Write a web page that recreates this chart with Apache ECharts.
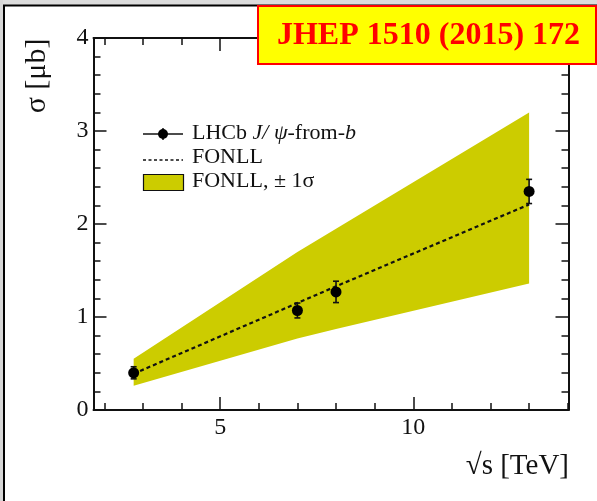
<!DOCTYPE html>
<html>
<head>
<meta charset="utf-8">
<script src="https://cdn.jsdelivr.net/npm/echarts@6/dist/echarts.min.js"></script>
<style>
  html, body { margin: 0; padding: 0; background: #ffffff; }
  #chart { width: 597px; height: 501px; }
</style>
</head>
<body>
<div id="chart"></div>
<script>
// Centre-of-mass energies (TeV) and J/psi-from-b cross-sections (microbarn)
const energies = [2.76, 7, 8, 13];
const lhcbSigma = [0.40, 1.07, 1.27, 2.35];
const lhcbErr = [0.065, 0.08, 0.115, 0.13];

// FONLL prediction: central value and +-1 sigma envelope
const fonllCentral = [0.39, 1.15, 1.33, 2.21];
const fonllUpper = [0.55, 1.70, 1.95, 3.20];
const fonllLower = [0.26, 0.77, 0.87, 1.36];

// Axis ticks
const xMajorTicks = [5, 10];
const xMinorTicks = [2, 3, 4, 5, 6, 7, 8, 9, 10, 11, 12, 13, 14];
const xRange = [1.72, 14.02];
const yRange = [0, 4];

const SERIF = '"Liberation Serif", "DejaVu Serif", serif';
const INK = '#111';
const BAND = '#cccc00';

const chart = echarts.init(document.getElementById('chart'));

function xAxisDef(position, major, showLine, showLabel) {
  return {
    type: 'value', gridIndex: 0, position: position,
    min: xRange[0], max: xRange[1],
    axisLine: { show: showLine, onZero: false, lineStyle: { color: INK, width: 2 } },
    axisTick: {
      show: true, inside: true, length: major ? 13 : 7,
      customValues: major ? xMajorTicks : xMinorTicks,
      lineStyle: { color: INK, width: 1.5 }
    },
    axisLabel: {
      show: showLabel, customValues: xMajorTicks, margin: 6,
      fontFamily: SERIF, fontSize: 24, color: INK
    },
    splitLine: { show: false }
  };
}

function yAxisDef(position, showLabel) {
  return {
    type: 'value', gridIndex: 0, position: position,
    min: yRange[0], max: yRange[1], interval: 1,
    axisLine: { show: true, onZero: false, lineStyle: { color: INK, width: 2 } },
    axisTick: { show: true, inside: true, length: 13, lineStyle: { color: INK, width: 1.5 } },
    minorTick: { show: true, splitNumber: 5, length: 7, lineStyle: { color: INK, width: 1.5 } },
    axisLabel: { show: showLabel, margin: 5, fontFamily: SERIF, fontSize: 24, color: INK },
    splitLine: { show: false }, minorSplitLine: { show: false }
  };
}

const bandData = energies.map((e, i) => [e, fonllLower[i], fonllUpper[i]]);
const pointData = energies.map((e, i) => [e, lhcbSigma[i]]);
const errData = energies.map((e, i) => [e, lhcbSigma[i] - lhcbErr[i], lhcbSigma[i] + lhcbErr[i]]);
const centralData = energies.map((e, i) => [e, fonllCentral[i]]);

const option = {
  backgroundColor: '#ffffff',
  animation: false,
  grid: { left: 93.5, right: 28.5, top: 38, bottom: 91, containLabel: false },
  xAxis: [
    xAxisDef('bottom', true, true, true),
    xAxisDef('bottom', false, false, false),
    xAxisDef('top', true, true, false),
    xAxisDef('top', false, false, false)
  ],
  yAxis: [
    yAxisDef('left', true),
    yAxisDef('right', false)
  ],
  series: [
    {
      // FONLL +-1 sigma band as one polygon: upper edge forward, lower edge back
      type: 'custom', name: 'FONLL band', xAxisIndex: 0, yAxisIndex: 0, z: 1,
      data: bandData,
      renderItem: function (params, api) {
        if (params.dataIndex !== 0) return null;
        const pts = [];
        for (let i = 0; i < bandData.length; i++) pts.push(api.coord([bandData[i][0], bandData[i][2]]));
        for (let i = bandData.length - 1; i >= 0; i--) pts.push(api.coord([bandData[i][0], bandData[i][1]]));
        return { type: 'polygon', shape: { points: pts }, style: { fill: BAND } };
      }
    },
    {
      type: 'line', name: 'FONLL', xAxisIndex: 0, yAxisIndex: 0, z: 3,
      data: centralData, symbol: 'none',
      lineStyle: { color: INK, width: 2.2, type: [4, 3] }
    },
    {
      // vertical error bars with short caps
      type: 'custom', name: 'errors', xAxisIndex: 0, yAxisIndex: 0, z: 4,
      data: errData,
      renderItem: function (params, api) {
        const x = api.value(0);
        const lo = api.coord([x, api.value(1)]);
        const hi = api.coord([x, api.value(2)]);
        const cw = 3;
        const st = { stroke: INK, lineWidth: 1.6 };
        return {
          type: 'group',
          children: [
            { type: 'line', shape: { x1: lo[0], y1: lo[1], x2: hi[0], y2: hi[1] }, style: st },
            { type: 'line', shape: { x1: lo[0] - cw, y1: lo[1], x2: lo[0] + cw, y2: lo[1] }, style: st },
            { type: 'line', shape: { x1: hi[0] - cw, y1: hi[1], x2: hi[0] + cw, y2: hi[1] }, style: st }
          ]
        };
      }
    },
    {
      type: 'scatter', name: 'LHCb', xAxisIndex: 0, yAxisIndex: 0, z: 5,
      data: pointData, symbol: 'circle', symbolSize: 11,
      itemStyle: { color: '#000', opacity: 1 }
    }
  ],
  graphic: [
    // page frame
    { type: 'rect', shape: { x: 0, y: 0, width: 597, height: 5 }, style: { fill: '#dcdcdc' }, silent: true },
    { type: 'rect', shape: { x: 0, y: 0, width: 3, height: 501 }, style: { fill: '#d6d6d6' }, silent: true },
    { type: 'line', shape: { x1: 3, y1: 5.5, x2: 597, y2: 5.5 }, style: { stroke: '#000', lineWidth: 2 }, silent: true },
    { type: 'line', shape: { x1: 4, y1: 5, x2: 4, y2: 501 }, style: { stroke: '#000', lineWidth: 2 }, silent: true },

    // journal reference box
    { type: 'rect', shape: { x: 258, y: 6, width: 338, height: 58 },
      style: { fill: '#ffff00', stroke: '#ff0000', lineWidth: 2 }, z: 10 },
    { type: 'text', x: 428.5, y: 36, z: 11,
      style: { text: 'JHEP 1510 (2015) 172', fontFamily: SERIF, fontWeight: 'bold', fontSize: 32,
               fill: '#ff0000', align: 'center', verticalAlign: 'middle' } },

    // axis titles
    { type: 'text', x: 37, y: 76, rotation: Math.PI / 2, z: 10,
      style: { text: 'σ [μb]', fontFamily: SERIF, fontSize: 30, fill: INK,
               align: 'center', verticalAlign: 'middle' } },
    { type: 'text', x: 569, y: 466, z: 10,
      style: { text: '√s [TeV]', fontFamily: SERIF, fontSize: 29, fill: INK,
               align: 'right', verticalAlign: 'middle' } },

    // legend
    { type: 'line', shape: { x1: 143, y1: 134, x2: 183, y2: 134 }, style: { stroke: INK, lineWidth: 1.6 }, z: 10 },
    { type: 'line', shape: { x1: 163, y1: 128, x2: 163, y2: 140 }, style: { stroke: INK, lineWidth: 1.5 }, z: 10 },
    { type: 'circle', shape: { cx: 163, cy: 134, r: 5 }, style: { fill: '#000' }, z: 10 },
    { type: 'text', x: 192, y: 133, z: 10,
      style: {
        text: '{n|LHCb }{i|J/ ψ}{n|-from-}{i|b}',
        verticalAlign: 'middle',
        rich: {
          n: { fontFamily: SERIF, fontSize: 22, fill: INK },
          i: { fontFamily: SERIF, fontSize: 22, fontStyle: 'italic', fill: INK }
        }
      } },
    { type: 'line', shape: { x1: 143, y1: 160, x2: 183, y2: 160 },
      style: { stroke: INK, lineWidth: 1.5, lineDash: [3, 2.5] }, z: 10 },
    { type: 'text', x: 192, y: 157, z: 10,
      style: { text: 'FONLL', fontFamily: SERIF, fontSize: 22, fill: INK, verticalAlign: 'middle' } },
    { type: 'rect', shape: { x: 143.5, y: 174.5, width: 40, height: 16 },
      style: { fill: BAND, stroke: INK, lineWidth: 1.2 }, z: 10 },
    { type: 'text', x: 192, y: 181, z: 10,
      style: { text: 'FONLL, ± 1σ', fontFamily: SERIF, fontSize: 22, fill: INK, verticalAlign: 'middle' } }
  ]
};

chart.setOption(option);
</script>
</body>
</html>
